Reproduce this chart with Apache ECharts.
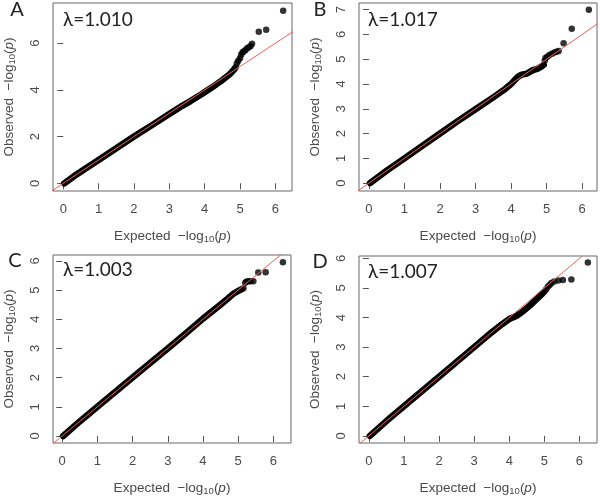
<!DOCTYPE html>
<html>
<head>
<meta charset="utf-8">
<script src="https://cdn.jsdelivr.net/npm/echarts@6/dist/echarts.min.js"></script>
<style>html,body{margin:0;padding:0;background:#fff}#c{width:600px;height:498px}</style>
</head>
<body>
<div id="c"></div>
<script>
// ---- data ----
const panelLetters = ['A', 'B', 'C', 'D'];
const lambdaLabels = ['λ=1.010', 'λ=1.017', 'λ=1.003', 'λ=1.007'];
const xTicks = [0, 1, 2, 3, 4, 5, 6];
const yTicksA = [0, 2, 4, 6];
const yTicksB = [0, 1, 2, 3, 4, 5, 6, 7];
const yTicksC = [0, 1, 2, 3, 4, 5, 6];
const yTicksD = [0, 1, 2, 3, 4, 5, 6];

// dense part of each QQ cloud (expected, observed)
const bandA = [[0.03,0],[0.3,0.3],[0.6,0.6],[1,1],[1.5,1.5],[2,2],[2.5,2.48],[3,2.97],[3.3,3.26],[3.6,3.52],[3.9,3.8],[4.2,4.1],[4.5,4.42],[4.7,4.66],[4.82,4.85]];
const bandB = [[0.03,0],[0.5,0.5],[1,1],[1.5,1.5],[2,2],[2.5,2.5],[3,2.98],[3.5,3.46],[3.8,3.76],[4.0,4.0],[4.1,4.15],[4.2,4.3],[4.3,4.38],[4.45,4.42],[4.6,4.55],[4.75,4.62],[4.85,4.7],[4.92,4.78]];
const bandC = [[0.03,0],[0.5,0.5],[1,1],[2,2],[3,3],[3.5,3.5],[4,4.02],[4.5,4.5],[4.7,4.7],[4.85,4.86]];
const bandD = [[0.03,0],[0.5,0.5],[1,1],[2,2],[3,3],[3.5,3.5],[3.8,3.78],[4.0,3.95],[4.2,4.05],[4.4,4.22],[4.6,4.42],[4.8,4.65],[4.95,4.82]];

// sparse tail points
const tailA = [[4.85,4.92],[4.88,4.98],[4.91,5.14],[4.95,5.25],[5.0,5.35],[5.03,5.5],[5.07,5.6],[5.1,5.64],[5.15,5.7],[5.2,5.78],[5.25,5.82],[5.3,5.88],[5.34,5.97],[5.53,6.49],[5.74,6.57],[6.22,7.39]];
const tailB = [[4.95,4.95],[4.97,5.05],[5.02,5.1],[5.08,5.17],[5.15,5.22],[5.22,5.27],[5.28,5.3],[5.34,5.33],[5.48,5.65],[5.71,6.23],[6.19,7.0]];
const tailC = [[4.9,4.9],[4.95,4.93],[5.0,4.97],[5.05,5.0],[5.1,5.03],[5.15,5.06],[5.2,5.25],[5.24,5.29],[5.3,5.3],[5.35,5.3],[5.43,5.3],[5.57,5.6],[5.78,5.61],[6.27,5.95]];
const tailD = [[5.0,4.88],[5.05,4.95],[5.1,5.04],[5.15,5.1],[5.2,5.17],[5.28,5.22],[5.4,5.25],[5.53,5.27],[5.77,5.29],[6.24,5.86]];

// y = x reference line
const refLine = [[-1,-1],[8,8]];

// ---- layout ----
const panels = [
  {grid:{left:53, top:3, width:239, height:188}, x:[-0.29,6.47], y:[-0.33,7.72], yTicks:yTicksA, band:bandA, tail:tailA},
  {grid:{left:359, top:3, width:238, height:188}, x:[-0.28,6.42], y:[-0.32,7.27], yTicks:yTicksB, band:bandB, tail:tailB},
  {grid:{left:53, top:255, width:238, height:188}, x:[-0.26,6.5], y:[-0.24,6.2], yTicks:yTicksC, band:bandC, tail:tailC},
  {grid:{left:359, top:256, width:238, height:187}, x:[-0.28,6.5], y:[-0.24,6.08], yTicks:yTicksD, band:bandD, tail:tailD}
];
const letterPos = [[17,10],[320,10],[15,261],[320,262]];
const lambdaPos = [[63,20],[368,20],[63,270],[368,272]];

const txtColor = '#4a4a4a';
const axisFont = "'Liberation Sans', Arial, sans-serif";
const nameRich = {
  a:{fontSize:13.5, color:txtColor, fontFamily:axisFont},
  b:{fontSize:9.5, color:txtColor, fontFamily:axisFont, padding:[6,0,0,0]},
  c:{fontSize:13.5, color:txtColor, fontFamily:axisFont, fontStyle:'italic'}
};
const nameStr = w => '{a|' + w + '  \u2212log}{b|10}{a|(}{c|p}{a|)}';

const grids = [], xAxes = [], yAxes = [], series = [], graphics = [];
panels.forEach((p, i) => {
  grids.push(Object.assign({show:true, borderColor:'#666', borderWidth:1, backgroundColor:'transparent'}, p.grid));
  xAxes.push({
    type:'value', gridIndex:i, min:p.x[0], max:p.x[1],
    splitLine:{show:false}, axisLine:{show:false},
    axisTick:{show:true, inside:false, length:6, lineStyle:{color:'#555'}, customValues:xTicks},
    axisLabel:{color:txtColor, fontSize:13, fontFamily:axisFont, margin:12, customValues:xTicks},
    name:nameStr('Expected'), nameLocation:'middle', nameGap:37,
    nameTextStyle:{rich:nameRich}
  });
  yAxes.push({
    type:'value', gridIndex:i, min:p.y[0], max:p.y[1],
    splitLine:{show:false}, axisLine:{show:false},
    axisTick:{show:true, inside:false, length:6, lineStyle:{color:'#555'}, customValues:p.yTicks},
    axisLabel:{color:txtColor, fontSize:13, fontFamily:axisFont, margin:11, rotate:90, customValues:p.yTicks},
    name:nameStr('Observed'), nameLocation:'middle', nameGap:36,
    nameTextStyle:{rich:nameRich}
  });
  series.push({
    type:'line', xAxisIndex:i, yAxisIndex:i, data:p.band, symbol:'none', smooth:false,
    lineStyle:{color:'#000', width:6.5, cap:'round', join:'round'}, z:2, silent:true
  });
  series.push({
    type:'scatter', xAxisIndex:i, yAxisIndex:i, data:p.tail, symbol:'circle', symbolSize:6.5,
    itemStyle:{color:'#000'}, z:3, silent:true
  });
  series.push({
    type:'line', xAxisIndex:i, yAxisIndex:i, data:refLine, symbol:'none', clip:true,
    lineStyle:{color:'#ef5f5f', width:1}, z:4, silent:true
  });
  graphics.push({type:'text', x:letterPos[i][0], y:letterPos[i][1],
    style:{text:panelLetters[i], fill:'#222', font:'20px Lato, "Open Sans", sans-serif', textAlign:'center', textVerticalAlign:'middle'}});
  graphics.push({type:'text', x:lambdaPos[i][0], y:lambdaPos[i][1],
    style:{text:lambdaLabels[i], fill:'#222', font:'19px Lato, "Open Sans", sans-serif', textAlign:'left', textVerticalAlign:'middle'}});
});

const chart = echarts.init(document.getElementById('c'), null, {renderer:'canvas'});
chart.setOption({
  animation:false,
  backgroundColor:'#fff',
  grid:grids, xAxis:xAxes, yAxis:yAxes, series:series, graphic:graphics
});
</script>
</body>
</html>
